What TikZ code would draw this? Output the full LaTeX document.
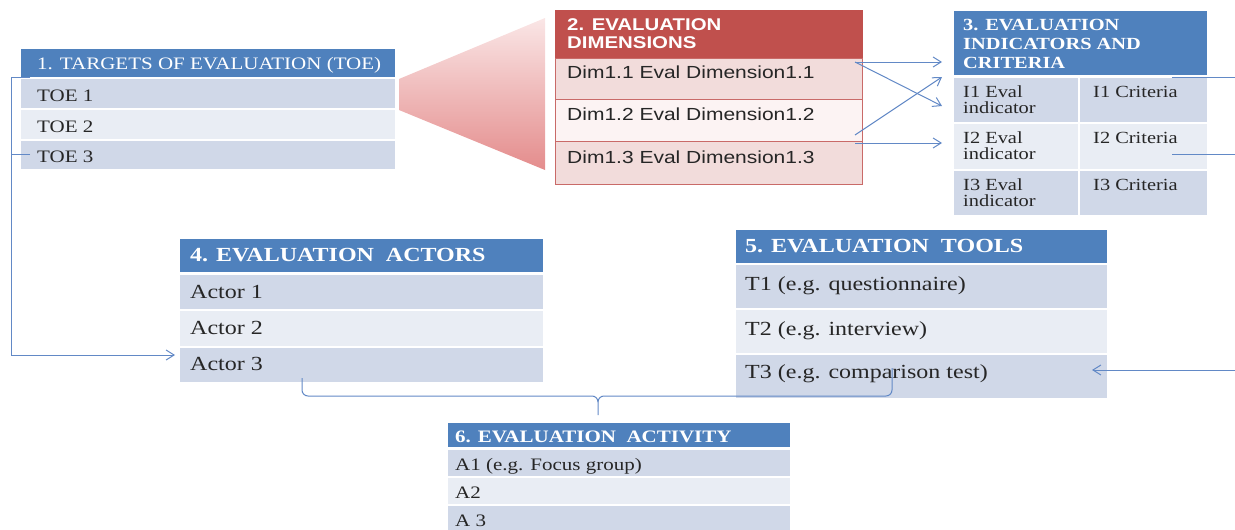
\documentclass[tikz,border=0pt]{standalone}
\usepackage{fontspec}
\setmainfont{Liberation Serif}[FakeStretch=1.2]
\newfontfamily\arialf{Liberation Sans}[FakeStretch=1.2]
\usetikzlibrary{arrows.meta}
\definecolor{hblue}{HTML}{4F81BD}
\definecolor{rdark}{HTML}{D0D8E8}
\definecolor{rlight}{HTML}{E9EDF4}
\definecolor{hred}{HTML}{C0504D}
\definecolor{pinkrow}{HTML}{F2DCDB}
\definecolor{pinkrowb}{HTML}{FCF3F3}
\definecolor{conn}{HTML}{6289C6}
\definecolor{txt}{HTML}{262626}
\definecolor{trtop}{HTML}{FAE6E6}
\definecolor{trmid}{HTML}{F1B7B7}
\definecolor{trbot}{HTML}{E48C8C}
\newcommand{\fs}[1]{\fontsize{#1}{#1}\selectfont}
\tikzset{
 cell/.style={rectangle, anchor=north west, inner sep=0pt, outer sep=0pt, draw=white, line width=1.2pt},
 bhead/.style={cell, fill=hblue},
 dk/.style={cell, fill=rdark},
 lt/.style={cell, fill=rlight},
 rhead/.style={cell, fill=hred, draw=hred, line width=1pt},
 pk/.style={cell, fill=pinkrow, draw=hred!85, line width=1pt},
 pkl/.style={cell, fill=pinkrowb, draw=hred!85, line width=1pt},
 lbl/.style={anchor=base west, inner sep=0pt, text=txt},
 hlbl/.style={anchor=base west, inner sep=0pt, text=white},
 mlbl/.style={anchor=north west, inner sep=0pt, text=txt, align=left},
 conline/.style={draw=conn, line width=1pt},
 arr/.style={conline, -{Straight Barb[length=8pt,width=10pt]}},
}
\begin{document}
\begin{tikzpicture}[x=1pt,y=-1pt]
\useasboundingbox (0,0) rectangle (1235,530);

% ---------- Box 1 ----------
\node[bhead, minimum width=376pt, minimum height=30pt] (h1) at (20,48) {};
\node[hlbl, font=\fs{17.5}] (h1t) at (37,69) {1. TARGETS OF EVALUATION (TOE)};
\node[dk, minimum width=376pt, minimum height=31pt] (toe1) at (20,78) {};
\node[lbl, font=\fs{17.5}] (toe1t) at (37,101) {TOE 1};
\node[lt, minimum width=376pt, minimum height=31pt] (toe2) at (20,109) {};
\node[lbl, font=\fs{17.5}] (toe2t) at (37,132) {TOE 2};
\node[dk, minimum width=376pt, minimum height=30pt] (toe3) at (20,140) {};
\node[lbl, font=\fs{17.5}] (toe3t) at (37,162) {TOE 3};

% ---------- funnel ----------
\shade[top color=trtop, middle color=trmid, bottom color=trbot]
  (399,79) -- (545,18) -- (545,170) -- (399,110) -- cycle;

% ---------- Box 2 ----------
\node[rhead, minimum width=307pt, minimum height=48pt] (h2) at (555,10) {};
\node[anchor=north west, inner sep=0pt, text=white, align=left, font=\arialf\bfseries\fontsize{17}{18}\selectfont] (h2t) at (567,18) {2. EVALUATION\\DIMENSIONS};
\node[pk, minimum width=307pt, minimum height=41pt] (d1) at (555,58) {};
\node[lbl, font=\arialf\fs{17.5}] (d1t) at (567,78) {Dim1.1 Eval Dimension1.1};
\node[pkl, minimum width=307pt, minimum height=42pt] (d2) at (555,99) {};
\node[lbl, font=\arialf\fs{17.5}] (d2t) at (567,120) {Dim1.2 Eval Dimension1.2};
\node[pk, minimum width=307pt, minimum height=43pt] (d3) at (555,141) {};
\node[lbl, font=\arialf\fs{17.5}] (d3t) at (567,163) {Dim1.3 Eval Dimension1.3};

% ---------- Box 3 ----------
\node[bhead, minimum width=255pt, minimum height=66pt] (h3) at (953,10) {};
\node[anchor=north west, inner sep=0pt, text=white, align=left, font=\bfseries\fontsize{17}{19}\selectfont] (h3t) at (963,18.7) {3. EVALUATION\\INDICATORS AND\\CRITERIA};
\node[dk, minimum width=126pt, minimum height=46pt] (i1) at (953,77) {};
\node[dk, minimum width=129pt, minimum height=46pt] (c1) at (1079,77) {};
\node[lt, minimum width=126pt, minimum height=47pt] (i2) at (953,123) {};
\node[lt, minimum width=129pt, minimum height=47pt] (c2) at (1079,123) {};
\node[dk, minimum width=126pt, minimum height=46pt] (i3) at (953,170) {};
\node[dk, minimum width=129pt, minimum height=46pt] (c3) at (1079,170) {};
\node[mlbl, font=\fontsize{17}{16}\selectfont] (i1t) at (963,85.5) {I1 Eval\\indicator};
\node[mlbl, font=\fontsize{17}{16}\selectfont] (i2t) at (963,131.5) {I2 Eval\\indicator};
\node[mlbl, font=\fontsize{17}{16}\selectfont] (i3t) at (963,178.5) {I3 Eval\\indicator};
\node[lbl, font=\fs{17}] (c1t) at (1093,97) {I1 Criteria};
\node[lbl, font=\fs{17}] (c2t) at (1093,143) {I2 Criteria};
\node[lbl, font=\fs{17}] (c3t) at (1093,190) {I3 Criteria};

% ---------- Box 4 ----------
\node[bhead, minimum width=365pt, minimum height=35pt] (h4) at (179,238) {};
\node[hlbl, font=\bfseries\fs{20}] (h4t) at (190,261) {4. EVALUATION~ ACTORS};
\node[dk, minimum width=365pt, minimum height=36pt] (a1) at (179,274) {};
\node[lbl, font=\fs{20}] (a1t) at (190,298) {Actor 1};
\node[lt, minimum width=365pt, minimum height=37pt] (a2) at (179,310) {};
\node[lbl, font=\fs{20}] (a2t) at (190,334) {Actor 2};
\node[dk, minimum width=365pt, minimum height=36pt] (a3) at (179,347) {};
\node[lbl, font=\fs{20}] (a3t) at (190,370) {Actor 3};

% ---------- Box 5 ----------
\node[bhead, minimum width=373pt, minimum height=35pt] (h5) at (735,229) {};
\node[hlbl, font=\bfseries\fs{20}] (h5t) at (745,252) {5. EVALUATION~ TOOLS};
\node[dk, minimum width=373pt, minimum height=45pt] (t1) at (735,264) {};
\node[lbl, font=\fs{20}] (t1t) at (745,290) {T1 (e.g. questionnaire)};
\node[lt, minimum width=373pt, minimum height=45pt] (t2) at (735,309) {};
\node[lbl, font=\fs{20}] (t2t) at (745,335) {T2 (e.g. interview)};
\node[dk, minimum width=373pt, minimum height=45pt] (t3) at (735,354) {};
\node[lbl, font=\fs{20}] (t3t) at (745,378) {T3 (e.g. comparison test)};

% ---------- Box 6 ----------
\node[bhead, minimum width=344pt, minimum height=26pt] (h6) at (447,422) {};
\node[hlbl, font=\bfseries\fs{17.5}] (h6t) at (455,442) {6. EVALUATION~ ACTIVITY};
\node[dk, minimum width=344pt, minimum height=28pt] (ac1) at (447,449) {};
\node[lbl, font=\fs{17.5}] (ac1t) at (455,470) {A1 (e.g. Focus group)};
\node[lt, minimum width=344pt, minimum height=28pt] (ac2) at (447,477) {};
\node[lbl, font=\fs{17.5}] (ac2t) at (455,498) {A2};
\node[dk, minimum width=344pt, minimum height=27pt] (ac3) at (447,505) {};
\node[lbl, font=\fs{17.5}] (ac3t) at (455,526) {A 3};

% ---------- connectors ----------
\coordinate (s11) at (855,62);
\coordinate (s12) at (855,135);
\coordinate (s13) at (855,143);
\coordinate (e1) at (942,62);
\coordinate (e2) at (942,106);
\coordinate (e3) at (942,77);
\coordinate (e4) at (942,143);
\draw[arr] (s11) -- (e1);
\draw[arr] (s11) -- (e2);
\draw[arr] (s12) -- (e3);
\draw[arr] (s13) -- (e4);

\coordinate (r1s) at (1172,77);
\coordinate (r1e) at (1235,77);
\coordinate (r2s) at (1172,154);
\coordinate (r2e) at (1235,154);
\draw[conline] (r1s) -- (r1e);
\draw[conline] (r2s) -- (r2e);

\coordinate (bt) at (30,77);
\coordinate (bm) at (30,154);
\coordinate (bl) at (11,154);
\coordinate (ain) at (175,355);
\draw[arr] (bt) -- (11,77) -- (11,355) -- (ain);
\draw[conline] (bm) -- (bl);

\coordinate (bra) at (302,378);
\coordinate (brb) at (892,368);
\coordinate (brt) at (598,415);
\draw[conline] (bra) -- (302,390) to[out=-90,in=180] (308,396) -- (592,396) to[out=0,in=90] (598,402) -- (brt);
\draw[conline] (brb) -- (892,390) to[out=-90,in=0] (886,396) -- (604,396) to[out=180,in=90] (598,402);

\coordinate (t3r) at (1235,370);
\coordinate (t3e) at (1092,370);
\draw[arr] (t3r) -- (t3e);
\end{tikzpicture}
\end{document}
